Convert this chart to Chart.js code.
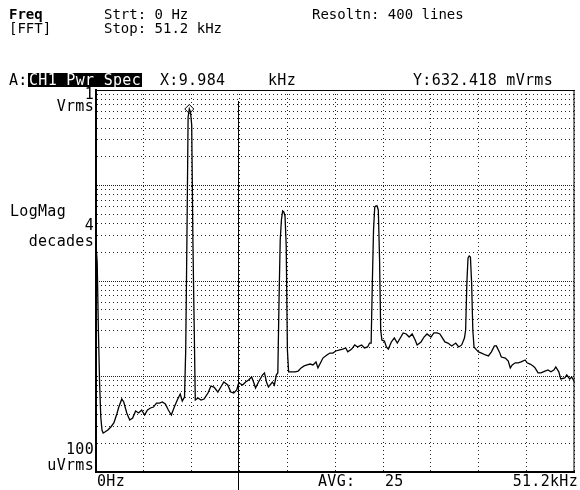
<!DOCTYPE html>
<html lang="en">
<head>
<meta charset="UTF-8">
<title>Freq [FFT] - CH1 Pwr Spec</title>
<script src="https://cdn.jsdelivr.net/npm/chart.js"></script>
<style>
  html, body { margin: 0; padding: 0; background: #fff; overflow: hidden; }
  #screen { position: relative; width: 580px; height: 490px; font-family: "DejaVu Sans Mono", monospace; font-size: 15px; line-height: 15px; color: #000; }
  #screen canvas { position: absolute; left: 0; top: 0; }
  .t { position: absolute; white-space: pre; letter-spacing: 0.3px; }
  .hd { font-size: 14px; line-height: 14px; letter-spacing: 0; }
  .inv { background: #000; color: #fff; height: 14px; width: 113px; padding-left: 1px; }
</style>
</head>
<body>
<div id="screen">
  <canvas id="spec" width="580" height="490"></canvas>

  <!-- header -->
  <span class="t hd" style="left:9px;top:7px;font-weight:bold">Freq</span>
  <span class="t hd" style="left:9px;top:21px">[FFT]</span>
  <span class="t hd" style="left:104px;top:7px">Strt: 0 Hz</span>
  <span class="t hd" style="left:104px;top:21px">Stop: 51.2 kHz</span>
  <span class="t hd" style="left:312px;top:7px">Resoltn: 400 lines</span>

  <!-- trace line -->
  <span class="t" style="left:9px;top:73px">A:</span>
  <span class="t inv" style="left:28px;top:73px">CH1 Pwr Spec</span>
  <span class="t" style="left:160px;top:73px">X:9.984</span>
  <span class="t" style="left:268px;top:73px">kHz</span>
  <span class="t" style="left:413px;top:73px">Y:632.418 mVrms</span>

  <!-- y annotations -->
  <span class="t" style="right:486px;top:87px">1</span>
  <span class="t" style="right:486px;top:99px">Vrms</span>
  <span class="t" style="left:10px;top:204px">LogMag</span>
  <span class="t" style="right:486px;top:218px">4</span>
  <span class="t" style="right:486px;top:234px">decades</span>
  <span class="t" style="right:486px;top:442px">100</span>
  <span class="t" style="right:486px;top:458px">uVrms</span>

  <!-- x annotations -->
  <span class="t" style="left:97px;top:474px">0Hz</span>
  <span class="t" style="left:318px;top:474px">AVG:</span>
  <span class="t" style="left:385px;top:474px">25</span>
  <span class="t" style="right:2px;top:474px">51.2kHz</span>
</div>

<script>
  // spectrum: frequency in kHz, magnitude in Vrms
  const freqKHz = [
    0, 0.128, 0.256, 0.384, 0.512, 0.64, 0.768, 0.95, 1.27, 1.59, 1.91, 2.23, 2.44, 2.76, 2.97, 3.29, 3.61, 3.92,
    4.24, 4.56, 4.88, 5.20, 5.51, 5.83, 6.15, 6.47, 6.79, 7.10, 7.42, 7.74, 8.06, 8.38, 8.70, 9.01, 9.23, 9.472,
    9.6, 9.728, 9.856, 9.984, 10.112, 10.24, 10.368, 10.496, 10.624,
    10.92, 11.24, 11.56, 11.98, 12.30, 12.62, 13.04, 13.36, 13.68, 14.10, 14.42, 14.74, 15.06, 15.27, 15.69,
    16.01, 16.33, 16.65, 16.86, 17.07, 17.39, 17.82, 18.03, 18.24, 18.45, 18.88, 19.09, 19.30, 19.456,
    19.584, 19.712, 19.84, 19.968, 20.096, 20.224, 20.352, 20.48, 20.608,
    20.89, 21.31, 21.63, 21.95, 22.27, 22.59, 22.91, 23.22, 23.54, 23.75, 24.07, 24.28, 24.71, 25.03,
    25.34, 25.66, 26.09, 26.40, 26.72, 26.94, 27.36, 27.68, 28.00, 28.42, 28.74, 29.06, 29.27, 29.44,
    29.568, 29.696, 29.824, 29.952, 30.08, 30.208, 30.336, 30.464, 30.592,
    30.86, 31.07, 31.28, 31.60, 31.92, 32.24, 32.56, 32.87, 33.19, 33.51, 33.83, 34.15, 34.36, 34.78, 35.10,
    35.42, 35.84, 36.16, 36.48, 36.80, 37.01, 37.33, 37.65, 38.07, 38.49, 38.81, 39.13, 39.34, 39.424,
    39.552, 39.68, 39.808, 39.936, 40.064, 40.192, 40.32, 40.448,
    40.72, 40.93, 41.25, 41.68, 41.99, 42.31, 42.63, 42.84, 43.16, 43.37, 43.80, 44.11, 44.33, 44.54, 44.86,
    45.17, 45.49, 45.92, 46.13, 46.45, 46.77, 46.98, 47.30, 47.61, 48.04, 48.36, 48.67, 48.99, 49.20, 49.52,
    49.73, 50.16, 50.37, 50.69, 50.90, 51.2
  ];
  const ampVrms = [
    2.38e-2, 1.58e-2, 3.07e-3, 8.55e-4, 3.77e-4, 2.75e-4, 2.56e-4, 2.62e-4, 2.75e-4, 2.96e-4, 3.26e-4, 4.05e-4, 4.79e-4, 5.81e-4, 5.41e-4, 4.15e-4, 3.50e-4, 3.68e-4,
    4.35e-4, 4.15e-4, 4.46e-4, 3.95e-4, 4.46e-4, 4.68e-4, 4.79e-4, 5.27e-4, 5.27e-4, 5.41e-4, 5.15e-4, 4.46e-4, 3.95e-4, 4.79e-4, 5.67e-4, 6.56e-4, 5.54e-4, 6.10e-4,
    1.90e-3, 2.69e-2, 0.522, 0.632418, 0.588, 0.430, 2.69e-2, 3.91e-3, 5.67e-4,
    5.96e-4, 5.67e-4, 5.81e-4, 6.72e-4, 7.95e-4, 7.76e-4, 6.88e-4, 7.76e-4, 8.76e-4, 8.15e-4, 6.88e-4, 6.72e-4, 7.22e-4, 8.55e-4, 8.15e-4,
    8.76e-4, 9.19e-4, 9.88e-4, 8.76e-4, 7.58e-4, 8.76e-4, 1.04e-3, 1.09e-3, 8.76e-4, 7.76e-4, 8.76e-4, 8.15e-4, 1.04e-3, 1.09e-3,
    6.32e-3, 2.69e-2, 4.35e-2, 5.41e-2, 5.28e-2, 4.80e-2, 2.38e-2, 1.90e-3, 1.12e-3,
    1.12e-3, 1.12e-3, 1.14e-3, 1.23e-3, 1.29e-3, 1.32e-3, 1.35e-3, 1.32e-3, 1.42e-3, 1.23e-3, 1.42e-3, 1.56e-3, 1.68e-3, 1.76e-3,
    1.76e-3, 1.85e-3, 1.90e-3, 1.94e-3, 1.99e-3, 1.81e-3, 1.94e-3, 2.14e-3, 2.04e-3, 2.14e-3, 1.99e-3, 2.04e-3, 2.24e-3, 2.24e-3,
    9.53e-3, 3.42e-2, 5.96e-2, 6.10e-2, 6.10e-2, 5.54e-2, 1.78e-2, 3.07e-3, 2.41e-3,
    2.35e-3, 2.04e-3, 1.94e-3, 2.30e-3, 2.53e-3, 2.24e-3, 2.53e-3, 2.86e-3, 2.79e-3, 2.59e-3, 2.79e-3, 2.41e-3, 2.14e-3, 2.30e-3, 2.59e-3,
    2.79e-3, 2.59e-3, 2.86e-3, 2.86e-3, 2.79e-3, 2.59e-3, 2.30e-3, 2.24e-3, 2.09e-3, 2.24e-3, 2.04e-3, 2.14e-3, 2.41e-3, 2.53e-3,
    3.07e-3, 9.53e-3, 1.74e-2, 1.83e-2, 1.78e-2, 9.53e-3, 3.07e-3, 2.04e-3,
    1.90e-3, 1.81e-3, 1.76e-3, 1.68e-3, 1.64e-3, 1.81e-3, 2.09e-3, 2.09e-3, 1.81e-3, 1.60e-3, 1.56e-3, 1.45e-3, 1.23e-3, 1.32e-3, 1.39e-3,
    1.39e-3, 1.42e-3, 1.49e-3, 1.39e-3, 1.35e-3, 1.29e-3, 1.23e-3, 1.09e-3, 1.09e-3, 1.14e-3, 1.17e-3, 1.12e-3, 1.17e-3, 1.26e-3, 1.12e-3,
    9.42e-4, 9.65e-4, 1.04e-3, 9.42e-4, 9.88e-4, 8.76e-4
  ];

  // marker readout and the vertical cursor line
  const markerKHz = 9.984;
  const markerVrms = 0.632418;
  const cursorKHz = 15.2;

  // grid: 10 divisions across 0..51.2 kHz, 4 decades with 1..9 sub-lines
  const xGridKHz = [0, 5.12, 10.24, 15.36, 20.48, 25.6, 30.72, 35.84, 40.96, 46.08, 51.2];
  const yDecades = [1e-4, 1e-3, 1e-2, 1e-1];
  const yTop = 1;
  const ySubSteps = [1, 2, 3, 4, 5, 6, 7, 8, 9];

  const yGrid = [];
  yDecades.forEach(d => ySubSteps.forEach(s => yGrid.push(d * s)));
  yGrid.push(yTop);

  const isDecade = v => Math.abs(Math.log10(v) - Math.round(Math.log10(v))) < 1e-9;

  // top/right frame and the cursor line that runs down through the footer
  const screenDecor = {
    id: 'screenDecor',
    afterDatasetsDraw(chart) {
      const { ctx, chartArea: a, scales: { x } } = chart;
      ctx.save();
      ctx.strokeStyle = '#000';
      ctx.lineWidth = 1;
      ctx.beginPath();
      ctx.moveTo(a.left, a.top + 0.5);
      ctx.lineTo(a.right, a.top + 0.5);
      ctx.moveTo(a.right - 0.5, a.top);
      ctx.lineTo(a.right - 0.5, a.bottom);
      ctx.stroke();
      const cx = Math.round(x.getPixelForValue(cursorKHz)) + 0.5;
      ctx.beginPath();
      ctx.moveTo(cx, a.top + 11);
      ctx.lineTo(cx, chart.height);
      ctx.stroke();
      ctx.restore();
    }
  };

  new Chart(document.getElementById('spec'), {
    type: 'line',
    data: {
      datasets: [{
        label: 'CH1 Pwr Spec',
        data: freqKHz.map((f, i) => ({ x: f, y: ampVrms[i] })),
        borderColor: '#000',
        borderWidth: 1.3,
        pointRadius: 0,
        tension: 0
      }, {
        label: 'Marker',
        data: [{ x: markerKHz, y: markerVrms }],
        showLine: false,
        pointStyle: 'rectRot',
        pointRadius: 4.5,
        pointBorderWidth: 1,
        pointBorderColor: '#000',
        pointBackgroundColor: '#fff'
      }]
    },
    options: {
      responsive: false,
      animation: false,
      devicePixelRatio: 1,
      layout: { padding: { left: 96, top: 90, right: 1, bottom: 18 } },
      plugins: { legend: { display: false }, tooltip: { enabled: false } },
      scales: {
        x: {
          type: 'linear',
          min: 0,
          max: 51.2,
          afterBuildTicks: s => { s.ticks = xGridKHz.map(v => ({ value: v })); },
          ticks: { display: false },
          grid: { drawTicks: false, color: '#222', lineWidth: 1 },
          border: { display: true, color: '#000', width: 2, dash: [1, 3] }
        },
        y: {
          type: 'logarithmic',
          min: 1e-4,
          max: 1,
          afterBuildTicks: s => { s.ticks = yGrid.map(v => ({ value: v, major: isDecade(v) })); },
          ticks: { display: false },
          grid: { drawTicks: false, color: '#222', lineWidth: 1 },
          border: {
            display: true, color: '#000', width: 2,
            dash: c => (c.tick && isDecade(c.tick.value)) ? [1, 1] : [1, 3]
          }
        }
      }
    },
    plugins: [screenDecor]
  });
</script>
</body>
</html>
